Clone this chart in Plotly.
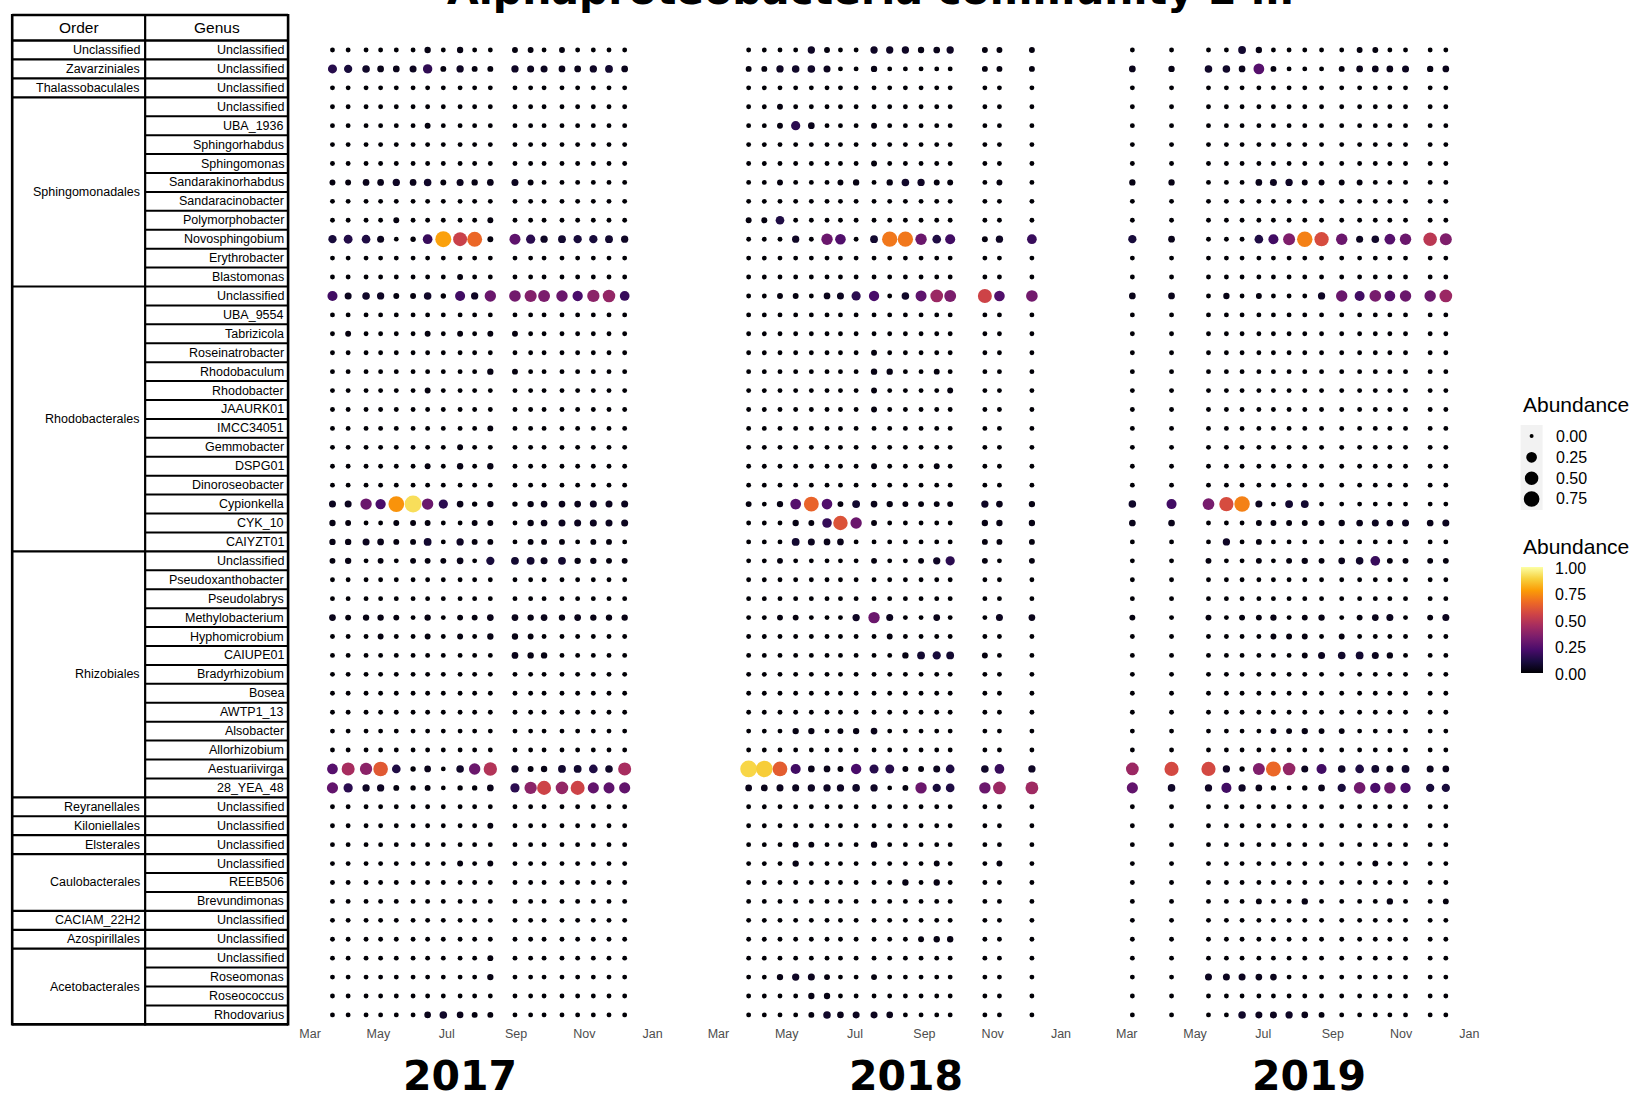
import numpy as np
import pandas as pd
import plotly.graph_objects as go

W, H = 1636, 1095

# ---------------- data ----------------
order_names = ["Unclassified", "Zavarziniales", "Thalassobaculales", "Sphingomonadales",
               "Rhodobacterales", "Rhizobiales", "Reyranellales", "Kiloniellales", "Elsterales",
               "Caulobacterales", "CACIAM_22H2", "Azospirillales", "Acetobacterales"]
order_spans = [1, 1, 1, 10, 14, 13, 1, 1, 1, 3, 1, 1, 4]

genus_names = ["Unclassified", "Unclassified", "Unclassified",
               "Unclassified", "UBA_1936", "Sphingorhabdus", "Sphingomonas", "Sandarakinorhabdus",
               "Sandaracinobacter", "Polymorphobacter", "Novosphingobium", "Erythrobacter", "Blastomonas",
               "Unclassified", "UBA_9554", "Tabrizicola", "Roseinatrobacter", "Rhodobaculum", "Rhodobacter",
               "JAAURK01", "IMCC34051", "Gemmobacter", "DSPG01", "Dinoroseobacter", "Cypionkella", "CYK_10",
               "CAIYZT01",
               "Unclassified", "Pseudoxanthobacter", "Pseudolabrys", "Methylobacterium", "Hyphomicrobium",
               "CAIUPE01", "Bradyrhizobium", "Bosea", "AWTP1_13", "Alsobacter", "Allorhizobium",
               "Aestuariivirga", "28_YEA_48",
               "Unclassified", "Unclassified", "Unclassified",
               "Unclassified", "REEB506", "Brevundimonas",
               "Unclassified", "Unclassified",
               "Unclassified", "Roseomonas", "Roseococcus", "Rhodovarius"]

years = [2017, 2018, 2019]

dates_2017 = ["2017-03-21", "2017-04-04", "2017-04-20", "2017-05-03", "2017-05-17", "2017-06-01",
              "2017-06-14", "2017-06-28", "2017-07-13", "2017-07-26", "2017-08-09", "2017-08-31",
              "2017-09-14", "2017-09-26", "2017-10-12", "2017-10-26", "2017-11-09", "2017-11-23",
              "2017-12-07"]
dates_2018 = ["2018-03-28", "2018-04-11", "2018-04-25", "2018-05-09", "2018-05-23", "2018-06-06",
              "2018-06-18", "2018-07-02", "2018-07-18", "2018-08-01", "2018-08-15", "2018-08-29",
              "2018-09-12", "2018-09-24", "2018-10-25", "2018-11-07", "2018-12-06"]
dates_2019 = ["2019-03-06", "2019-04-10", "2019-05-13", "2019-05-29", "2019-06-12", "2019-06-27",
              "2019-07-10", "2019-07-24", "2019-08-07", "2019-08-22", "2019-09-09", "2019-09-25",
              "2019-10-09", "2019-10-22", "2019-11-05", "2019-11-27", "2019-12-11"]

# abundance of every cell not listed below (tiny dots)
base_abundance = 0.004

# (genus row, sampling index, relative abundance)
peaks_2017 = [
    (0, 6, .03), (0, 8, .03), (0, 11, .02), (0, 12, .02), (0, 14, .02),
    (1, 0, .14), (1, 1, .10), (1, 2, .07), (1, 3, .04), (1, 4, .04), (1, 5, .05), (1, 6, .16), (1, 7, .02),
    (1, 8, .06), (1, 9, .02), (1, 10, .02), (1, 11, .06), (1, 12, .05), (1, 13, .05), (1, 14, .04),
    (1, 15, .04), (1, 16, .06), (1, 17, .08), (1, 18, .04),
    (4, 6, .02),
    (7, 0, .02), (7, 1, .02), (7, 2, .04), (7, 3, .04), (7, 4, .06), (7, 5, .04), (7, 6, .07), (7, 7, .02),
    (7, 8, .05), (7, 9, .03), (7, 10, .04), (7, 11, .05), (7, 12, .02),
    (9, 4, .02), (9, 10, .02),
    (10, 0, .10), (10, 1, .13), (10, 2, .12), (10, 3, .05), (10, 4, .003), (10, 5, .01), (10, 6, .18),
    (10, 7, .79), (10, 8, .54), (10, 9, .66), (10, 10, .02), (10, 11, .27), (10, 12, .15), (10, 13, .06),
    (10, 14, .08), (10, 15, .10), (10, 16, .10), (10, 17, .08), (10, 18, .06),
    (12, 8, .02),
    (13, 0, .20), (13, 1, .05), (13, 2, .07), (13, 3, .06), (13, 4, .02), (13, 5, .02), (13, 6, .07),
    (13, 7, .01), (13, 8, .20), (13, 9, .06), (13, 10, .30), (13, 11, .32), (13, 12, .36), (13, 13, .34),
    (13, 14, .30), (13, 15, .22), (13, 16, .38), (13, 17, .40), (13, 18, .18),
    (15, 1, .02), (15, 6, .02), (15, 8, .02), (15, 10, .02), (15, 11, .02),
    (17, 10, .03), (17, 11, .02), (18, 6, .02), (20, 10, .02), (21, 8, .02),
    (22, 6, .02), (22, 8, .03), (22, 10, .03),
    (24, 0, .05), (24, 1, .05), (24, 2, .30), (24, 3, .22), (24, 4, .76), (24, 5, .92), (24, 6, .30),
    (24, 7, .15), (24, 8, .04), (24, 9, .01), (24, 10, .03), (24, 11, .01), (24, 12, .03), (24, 13, .04),
    (24, 14, .04), (24, 15, .04), (24, 16, .05), (24, 17, .05), (24, 18, .05),
    (25, 0, .03), (25, 1, .02), (25, 4, .02), (25, 5, .02), (25, 6, .02), (25, 9, .02), (25, 10, .02),
    (25, 12, .03), (25, 13, .04), (25, 14, .05), (25, 15, .05), (25, 16, .05), (25, 17, .05), (25, 18, .05),
    (26, 0, .03), (26, 1, .03), (26, 2, .05), (26, 3, .04), (26, 4, .02), (26, 5, .02), (26, 6, .08),
    (26, 8, .06), (26, 9, .02), (26, 10, .02), (26, 12, .02), (26, 13, .02), (26, 14, .02), (26, 16, .02),
    (26, 17, .02),
    (27, 0, .02), (27, 1, .03), (27, 3, .02), (27, 5, .02), (27, 6, .02), (27, 7, .02), (27, 8, .04),
    (27, 10, .10), (27, 11, .08), (27, 12, .08), (27, 13, .05), (27, 14, .08), (27, 15, .03), (27, 16, .03),
    (27, 17, .02), (27, 18, .02),
    (30, 0, .04), (30, 1, .02), (30, 2, .03), (30, 3, .03), (30, 4, .02), (30, 6, .03), (30, 8, .02),
    (30, 9, .02), (30, 10, .04), (30, 11, .04), (30, 12, .03), (30, 13, .04), (30, 14, .03), (30, 15, .04),
    (30, 16, .03), (30, 17, .03), (30, 18, .03),
    (31, 3, .02), (31, 6, .02), (31, 8, .02), (31, 10, .03), (31, 11, .03), (31, 12, .02),
    (32, 11, .04), (32, 12, .03), (32, 13, .03),
    (38, 0, .25), (38, 1, .45), (38, 2, .38), (38, 3, .62), (38, 4, .12), (38, 5, .01), (38, 6, .04),
    (38, 7, .003), (38, 8, .07), (38, 9, .30), (38, 10, .48), (38, 11, .06), (38, 12, .02), (38, 13, .03),
    (38, 14, .08), (38, 15, .08), (38, 16, .12), (38, 17, .07), (38, 18, .45),
    (39, 0, .28), (39, 1, .15), (39, 2, .06), (39, 3, .06), (39, 4, .02), (39, 5, .01), (39, 6, .02),
    (39, 7, .003), (39, 8, .01), (39, 9, .01), (39, 10, .04), (39, 11, .15), (39, 12, .38), (39, 13, .55),
    (39, 14, .40), (39, 15, .55), (39, 16, .28), (39, 17, .27), (39, 18, .28),
    (41, 10, .02), (43, 8, .02), (43, 10, .02), (48, 10, .02), (49, 10, .03),
    (51, 6, .04), (51, 7, .07), (51, 8, .04), (51, 9, .02), (51, 10, .02),
]

peaks_2018 = [
    (0, 4, .06), (0, 5, .02), (0, 8, .06), (0, 9, .06), (0, 10, .06), (0, 11, .03), (0, 12, .04),
    (0, 13, .06), (0, 14, .02), (0, 15, .02), (0, 16, .02),
    (1, 0, .02), (1, 1, .02), (1, 2, .06), (1, 3, .07), (1, 4, .07), (1, 5, .05), (1, 8, .03),
    (1, 14, .02), (1, 15, .02), (1, 16, .02),
    (3, 2, .02),
    (4, 2, .02), (4, 3, .15), (4, 4, .04), (4, 8, .02),
    (6, 8, .02),
    (7, 2, .02), (7, 6, .02), (7, 7, .03), (7, 9, .03), (7, 10, .07), (7, 11, .06), (7, 12, .02),
    (7, 13, .02), (7, 15, .02),
    (9, 0, .02), (9, 1, .02), (9, 2, .12),
    (10, 3, .06), (10, 5, .30), (10, 6, .24), (10, 8, .08), (10, 9, .70), (10, 10, .70), (10, 11, .30),
    (10, 12, .12), (10, 13, .20), (10, 14, .02), (10, 15, .06), (10, 16, .18),
    (13, 2, .02), (13, 3, .02), (13, 5, .04), (13, 6, .05), (13, 7, .15), (13, 8, .22), (13, 10, .07),
    (13, 11, .27), (13, 12, .42), (13, 13, .34), (13, 14, .55), (13, 15, .24), (13, 16, .32),
    (16, 8, .02), (17, 8, .03), (17, 9, .03), (17, 12, .02), (18, 8, .02), (18, 13, .02), (19, 8, .02),
    (22, 8, .02), (22, 12, .02),
    (24, 0, .02), (24, 2, .03), (24, 3, .25), (24, 4, .65), (24, 5, .24), (24, 6, .02), (24, 7, .08),
    (24, 8, .04), (24, 9, .03), (24, 10, .02), (24, 11, .02), (24, 12, .02), (24, 13, .02), (24, 14, .06),
    (24, 15, .04), (24, 16, .03),
    (25, 3, .03), (25, 4, .02), (25, 5, .17), (25, 6, .60), (25, 7, .30), (25, 8, .02), (25, 14, .03),
    (25, 15, .03), (25, 16, .03),
    (26, 3, .08), (26, 4, .05), (26, 5, .04), (26, 6, .04), (26, 14, .02), (26, 15, .02), (26, 16, .02),
    (27, 2, .02), (27, 8, .02), (27, 11, .02), (27, 12, .06), (27, 13, .15), (27, 14, .02), (27, 16, .02),
    (30, 2, .02), (30, 3, .02), (30, 7, .06), (30, 8, .30), (30, 9, .05), (30, 12, .04), (30, 15, .05),
    (30, 16, .04),
    (31, 9, .02),
    (32, 10, .03), (32, 11, .08), (32, 12, .10), (32, 13, .08), (32, 14, .02),
    (36, 3, .03), (36, 4, .03), (36, 6, .02), (36, 7, .03), (36, 8, .04),
    (38, 0, .90), (38, 1, .88), (38, 2, .63), (38, 3, .20), (38, 4, .04), (38, 5, .04), (38, 6, .02),
    (38, 7, .22), (38, 8, .14), (38, 9, .14), (38, 10, .02), (38, 11, .02), (38, 12, .05), (38, 13, .12),
    (38, 14, .07), (38, 15, .18), (38, 16, .06),
    (39, 0, .04), (39, 1, .04), (39, 2, .05), (39, 3, .05), (39, 4, .06), (39, 5, .06), (39, 6, .06),
    (39, 7, .07), (39, 8, .06), (39, 9, .003), (39, 10, .02), (39, 11, .30), (39, 12, .10), (39, 13, .12),
    (39, 14, .30), (39, 15, .42), (39, 16, .43),
    (42, 3, .02), (42, 4, .02), (42, 8, .03),
    (43, 3, .03), (43, 12, .02), (43, 15, .02),
    (44, 10, .03), (44, 12, .03),
    (47, 11, .02), (47, 12, .03), (47, 13, .03),
    (49, 2, .03), (49, 3, .06), (49, 4, .05), (49, 5, .02), (49, 8, .02),
    (50, 4, .03), (50, 5, .03),
    (51, 4, .02), (51, 5, .07), (51, 6, .04), (51, 7, .05), (51, 8, .05), (51, 9, .04),
]

peaks_2019 = [
    (0, 4, .08), (0, 5, .03), (0, 11, .02), (0, 12, .02),
    (1, 0, .04), (1, 1, .03), (1, 2, .07), (1, 3, .07), (1, 4, .04), (1, 5, .25), (1, 6, .02),
    (1, 10, .02), (1, 11, .04), (1, 12, .04), (1, 13, .04), (1, 14, .05), (1, 15, .03), (1, 16, .04),
    (7, 0, .03), (7, 1, .03), (7, 5, .04), (7, 6, .05), (7, 7, .06), (7, 8, .02), (7, 9, .02),
    (7, 10, .02), (7, 11, .02),
    (10, 0, .10), (10, 1, .04), (10, 5, .12), (10, 6, .20), (10, 7, .35), (10, 8, .72), (10, 9, .58),
    (10, 10, .30), (10, 11, .05), (10, 12, .07), (10, 13, .25), (10, 14, .30), (10, 15, .50), (10, 16, .35),
    (13, 0, .04), (13, 1, .04), (13, 3, .03), (13, 5, .02), (13, 9, .06), (13, 10, .30), (13, 11, .20),
    (13, 12, .33), (13, 13, .25), (13, 14, .30), (13, 15, .30), (13, 16, .42),
    (24, 0, .07), (24, 1, .20), (24, 2, .33), (24, 3, .58), (24, 4, .72), (24, 5, .05), (24, 7, .08),
    (24, 8, .08),
    (25, 0, .04), (25, 1, .04), (25, 5, .02), (25, 6, .02), (25, 7, .02), (25, 8, .02), (25, 9, .02),
    (25, 10, .03), (25, 11, .04), (25, 12, .05), (25, 13, .04), (25, 14, .05), (25, 15, .04), (25, 16, .05),
    (26, 3, .06), (26, 5, .02),
    (27, 2, .02), (27, 5, .02), (27, 7, .02), (27, 8, .03), (27, 9, .02), (27, 10, .04), (27, 11, .07),
    (27, 12, .18), (27, 13, .02), (27, 14, .02), (27, 15, .02), (27, 16, .02),
    (30, 0, .02), (30, 2, .02), (30, 4, .02), (30, 5, .02), (30, 6, .03), (30, 8, .02), (30, 9, .03),
    (30, 11, .02), (30, 12, .04), (30, 13, .05), (30, 15, .02), (30, 16, .05),
    (31, 6, .02), (31, 7, .02), (31, 8, .02), (31, 10, .02),
    (32, 8, .02), (32, 9, .05), (32, 10, .07), (32, 11, .08), (32, 12, .05), (32, 13, .03),
    (36, 6, .02), (36, 7, .02), (36, 8, .03), (36, 9, .02), (36, 10, .02),
    (38, 0, .42), (38, 1, .57), (38, 2, .57), (38, 3, .06), (38, 4, .01), (38, 5, .35), (38, 6, .66),
    (38, 7, .40), (38, 8, .05), (38, 9, .20), (38, 10, .07), (38, 11, .12), (38, 12, .08), (38, 13, .05),
    (38, 14, .08), (38, 15, .05), (38, 16, .04),
    (39, 0, .28), (39, 1, .07), (39, 2, .06), (39, 3, .20), (39, 4, .06), (39, 5, .04), (39, 6, .01),
    (39, 7, .003), (39, 8, .01), (39, 9, .04), (39, 10, .10), (39, 11, .32), (39, 12, .22), (39, 13, .30),
    (39, 14, .22), (39, 15, .10), (39, 16, .10),
    (43, 12, .02),
    (45, 5, .02), (45, 8, .03), (45, 13, .03), (45, 16, .02),
    (49, 2, .05), (49, 3, .05), (49, 4, .05), (49, 5, .04), (49, 6, .04),
    (51, 4, .07), (51, 5, .05), (51, 6, .05), (51, 7, .06), (51, 8, .04), (51, 9, .02),
]

size_legend_values = [0.0, 0.25, 0.50, 0.75]
color_legend_values = [0.0, 0.25, 0.50, 0.75, 1.0]
month_ticks = ["03-01", "05-01", "07-01", "09-01", "11-01", "01-01"]
month_labels = ["Mar", "May", "Jul", "Sep", "Nov", "Jan"]
title_text = "Alphaproteobacteria community 2 m"

# ---------------- geometry (pixels) ----------------
ROW0, ROWH = 50.0, 18.92
n_rows = len(genus_names)
grid_top = ROW0 - ROWH / 2
grid_bot = ROW0 + ROWH * (n_rows - 0.5)
panel_mar1 = [310.0, 718.5, 1127.0]
PX_PER_DAY = 1.12
PAD_DAYS = 2
year_label_x = [460, 906, 1309.5]

# measured horizontal mapping of the viewer (rendered = X_OFF + X_SCALE * layout px)
X_OFF, X_SCALE = 8.8, 0.99

D_MIN, D_SLOPE = 4.0, 13.5


def dot_size(v):
    return D_MIN + D_SLOPE * np.sqrt(np.asarray(v, dtype=float))


def px(x):
    return ((x - X_OFF) / X_SCALE) / W


def py(y):
    return 1 - y / H


def row_y(r):
    return ROW0 + ROWH * r


FONT = "Liberation Sans, Arial, sans-serif"
BOLD = "DejaVu Sans, Verdana, sans-serif"

fig = go.Figure()
layout_axes = {}

all_dates = [dates_2017, dates_2018, dates_2019]
all_peaks = [peaks_2017, peaks_2018, peaks_2019]

for k, (yr, dates, peaks) in enumerate(zip(years, all_dates, all_peaks)):
    vals = np.full((n_rows, len(dates)), base_abundance)
    for r, c, v in peaks:
        vals[r, c] = v
    xs, ys, vs = [], [], []
    for r in range(n_rows):
        for c, d in enumerate(dates):
            xs.append(d)
            ys.append(r)
            vs.append(vals[r, c])
    vs = np.array(vs)
    axname = "x" if k == 0 else f"x{k + 1}"
    marker = dict(size=dot_size(vs), color=vs, colorscale="Inferno", cmin=0, cmax=1,
                  line=dict(width=0), opacity=1)
    if k == 0:
        marker["showscale"] = True
        marker["colorbar"] = dict(x=px(1521), xanchor="left", xpad=0, y=py(620), yanchor="middle",
                                  len=106, lenmode="pixels", ypad=0, thickness=22,
                                  thicknessmode="pixels", outlinewidth=0, showticklabels=False,
                                  ticks="", title=dict(text=""))
    else:
        marker["showscale"] = False
    fig.add_trace(go.Scatter(x=xs, y=ys, mode="markers", xaxis=axname, yaxis="y",
                             marker=marker, showlegend=False,
                             hovertemplate="%{x}<br>%{marker.color:.2f}<extra></extra>"))

    start = pd.Timestamp(f"{yr}-03-01")
    end = pd.Timestamp(f"{yr + 1}-01-01")
    ndays = (end - start).days
    r0 = start - pd.Timedelta(days=PAD_DAYS)
    r1 = end + pd.Timedelta(days=PAD_DAYS)
    left = panel_mar1[k] - PAD_DAYS * PX_PER_DAY
    right = panel_mar1[k] + (ndays + PAD_DAYS) * PX_PER_DAY
    tickvals = [f"{yr}-{m}" if m != "01-01" else f"{yr + 1}-{m}" for m in month_ticks]
    key = "xaxis" if k == 0 else f"xaxis{k + 1}"
    layout_axes[key] = dict(domain=[px(left), px(right)], anchor="y", type="date",
                            range=[r0, r1], tickvals=tickvals, ticktext=month_labels,
                            showgrid=False, zeroline=False, showline=False, ticks="",
                            tickfont=dict(family=FONT, size=12.5, color="#4d4d4d"),
                            fixedrange=True)

layout_axes["yaxis"] = dict(domain=[py(grid_bot), py(grid_top)], range=[n_rows - 0.5, -0.5],
                            visible=False, fixedrange=True)

shapes = []
annotations = []


def hline(x0, x1, y, w=2.2, color="black"):
    shapes.append(dict(type="line", xref="paper", yref="paper", x0=px(x0), x1=px(x1),
                       y0=py(y), y1=py(y), line=dict(color=color, width=w)))


def vline(x, y0, y1, w=2.2, color="black"):
    shapes.append(dict(type="line", xref="paper", yref="paper", x0=px(x), x1=px(x),
                       y0=py(y0), y1=py(y1), line=dict(color=color, width=w)))


def text(x, y, s, size, anchor="right", color="black", family=FONT):
    annotations.append(dict(xref="paper", yref="paper", x=px(x), y=py(y), text=s, showarrow=False,
                            xanchor=anchor, yanchor="middle",
                            font=dict(family=family, size=size, color=color)))


# ---------------- table ----------------
X_L, X_M, X_R = 12, 145, 288
HEAD_TOP = 15
vline(X_L, HEAD_TOP - 1, grid_bot + 1, w=2.6)
vline(X_M, HEAD_TOP - 1, grid_bot + 1, w=2.2)
vline(X_R, HEAD_TOP - 1, grid_bot + 1, w=2.6)
hline(X_L, X_R, HEAD_TOP, w=2.6)
hline(X_L, X_R, grid_top, w=2.6)
hline(X_L, X_R, grid_bot, w=2.6)
group_bounds = set(np.cumsum(order_spans).tolist())
for i in range(1, n_rows):
    yb = grid_top + ROWH * i
    if i in group_bounds:
        hline(X_L, X_R, yb, w=2.2)
    else:
        hline(X_M, X_R, yb, w=2.0)

text((X_L + X_M) / 2, (HEAD_TOP + grid_top) / 2, "Order", 15.5, anchor="center")
text((X_M + X_R) / 2, (HEAD_TOP + grid_top) / 2, "Genus", 15.5, anchor="center")
for r, g in enumerate(genus_names):
    text(285.5, row_y(r), g, 12.5)
start_row = 0
for name, span in zip(order_names, order_spans):
    text(141.5, row_y(start_row + (span - 1) / 2), name, 12.5)
    start_row += span

# ---------------- year labels & title ----------------
for yr, xc in zip(years, year_label_x):
    text(xc, 1076, f"<b>{yr}</b>", 41, anchor="center", family=BOLD)
annotations.append(dict(xref="paper", yref="paper", x=px(871), y=py(16), text=f"<b>{title_text}</b>",
                        showarrow=False, xanchor="center", yanchor="bottom",
                        font=dict(family=BOLD, size=41, color="black")))

# ---------------- size legend ----------------
LEG_X = 1521
text(LEG_X, 404, "Abundance", 21, anchor="left")
shapes.append(dict(type="rect", xref="paper", yref="paper", x0=px(LEG_X), x1=px(1543),
                   y0=py(425), y1=py(510), fillcolor="#f2f2f2", line=dict(width=0), layer="below"))
key_y = [436, 457.3, 478.3, 499]
for v, yc in zip(size_legend_values, key_y):
    rr = float(dot_size(v)) / 2
    shapes.append(dict(type="circle", xref="paper", yref="paper", x0=px(1532 - rr), x1=px(1532 + rr),
                       y0=py(yc + rr), y1=py(yc - rr), fillcolor="black", line=dict(width=0)))
    text(1554, yc, f"{v:.2f}", 16, anchor="left")

# ---------------- colour legend ----------------
text(LEG_X, 546, "Abundance", 21, anchor="left")
CB_TOP, CB_BOT = 567, 673
for v in color_legend_values:
    yv = CB_BOT - (CB_BOT - CB_TOP) * v
    shapes.append(dict(type="line", xref="paper", yref="paper", x0=px(LEG_X), x1=px(LEG_X + 4.4),
                       y0=py(yv), y1=py(yv), line=dict(color="white", width=1)))
    shapes.append(dict(type="line", xref="paper", yref="paper", x0=px(1538.6), x1=px(1543),
                       y0=py(yv), y1=py(yv), line=dict(color="white", width=1)))
    text(1553, yv + 1, f"{v:.2f}", 16, anchor="left")

fig.update_layout(width=W, height=H, margin=dict(l=0, r=0, t=0, b=0),
                  paper_bgcolor="white", plot_bgcolor="white", showlegend=False,
                  shapes=shapes, annotations=annotations, **layout_axes)

fig.write_html(
    "out.html",
    config={"displayModeBar": False, "responsive": False},
    post_script=("document.documentElement.style.margin='0';"
                 "document.documentElement.style.padding='0';"
                 "document.body.style.margin='0';document.body.style.padding='0';"
                 "document.body.style.overflow='hidden';"),
)
